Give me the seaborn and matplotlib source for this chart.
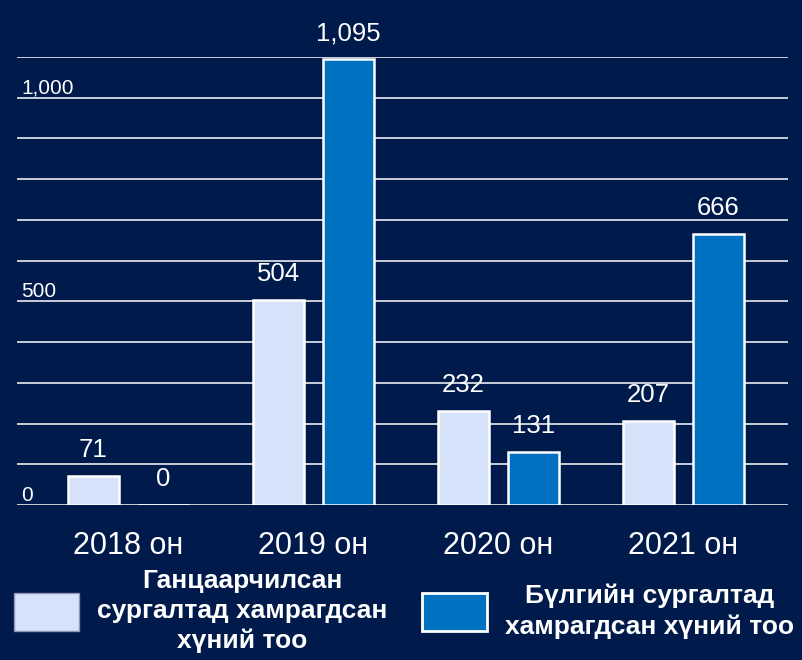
import numpy as np
import pandas as pd
import seaborn as sns
import matplotlib.pyplot as plt
from matplotlib.patches import Patch

# data
years = ["2018 он", "2019 он", "2020 он", "2021 он"]
individual = [71, 504, 232, 207]
group = [0, 1095, 131, 666]
series = ["Ганцаарчилсан\nсургалтад хамрагдсан\nхүний тоо",
          "Бүлгийн сургалтад\nхамрагдсан хүний тоо"]
grid_ticks = list(range(0, 1200, 100))
shown_ticks = {0: "0", 500: "500", 1000: "1,000"}

bg = "#001a4b"
colors = ["#d6e2fa", "#0070c0"]

df = pd.DataFrame({
    "year": years * 2,
    "count": individual + group,
    "type": [series[0]] * len(years) + [series[1]] * len(years),
})

sns.set_style("dark")
plt.rcParams["font.family"] = ["Liberation Sans", "DejaVu Sans"]

fig = plt.figure(figsize=(8.02, 6.6), dpi=100, facecolor=bg)
ax = fig.add_axes([0.0212, 0.2348, 0.9613, 0.6788])
ax.set_facecolor(bg)

sns.barplot(data=df, x="year", y="count", hue="type", hue_order=series,
            palette=colors, saturation=1, width=0.76, gap=0.27,
            edgecolor="white", linewidth=1.8, errorbar=None, legend=False, ax=ax)

ax.set_xlim(-0.603, 3.565)
ax.set_ylim(0, 1100)
ax.set_axisbelow(True)
ax.grid(axis="y", color="white", linewidth=1.1)
ax.grid(axis="x", visible=False)
for s in ax.spines.values():
    s.set_visible(False)

ax.set_yticks(grid_ticks, labels=[shown_ticks.get(t, "") for t in grid_ticks],
              ha="left", va="bottom")
ax.tick_params(axis="y", length=0, pad=-3, labelsize=15, labelcolor="white")
ax.tick_params(axis="x", length=0, pad=19, labelsize=22, labelcolor="white")
ax.set_xlabel("")
ax.set_ylabel("")

for cont, vals in zip(ax.containers, [individual, group]):
    ax.bar_label(cont, labels=[f"{v:,}" for v in vals], padding=10,
                 color="white", fontsize=18.5)

handles = [Patch(facecolor=colors[0], edgecolor="#8c96b4", linewidth=1),
           Patch(facecolor=colors[1], edgecolor="white", linewidth=2)]
leg = fig.legend(handles, series, loc="center", bbox_to_anchor=(404 / 802, 1 - 611 / 660),
                 ncol=2, frameon=False, prop={"size": 19, "weight": "bold"},
                 handlelength=2.46, handleheight=1.84, handletextpad=0.7,
                 columnspacing=1.3, labelcolor="white", borderpad=0)
for t in leg.get_texts():
    t.set_multialignment("center")
    t.set_linespacing(1.32)

fig.savefig("out.png", dpi=100, facecolor=bg)
